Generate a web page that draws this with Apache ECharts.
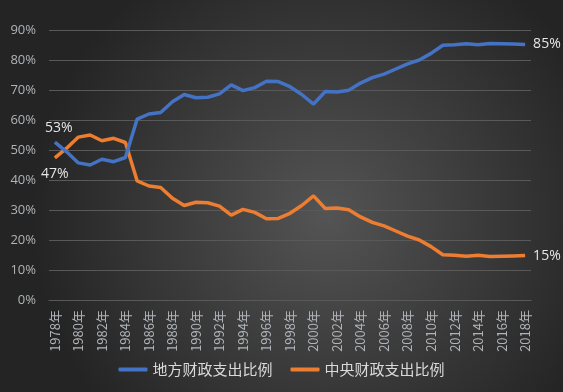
<!DOCTYPE html>
<html>
<head>
<meta charset="utf-8">
<script src="https://cdn.jsdelivr.net/npm/echarts@6/dist/echarts.min.js"></script>
<style>
html,body{margin:0;padding:0;background:#2b2b2b;}
#c{width:563px;height:392px;}
</style>
</head>
<body>
<div id="c"></div>
<script>
const years = ['1978年','1979年','1980年','1981年','1982年','1983年','1984年','1985年','1986年','1987年','1988年','1989年','1990年','1991年','1992年','1993年','1994年','1995年','1996年','1997年','1998年','1999年','2000年','2001年','2002年','2003年','2004年','2005年','2006年','2007年','2008年','2009年','2010年','2011年','2012年','2013年','2014年','2015年','2016年','2017年','2018年'];
const localShare = [52.6,49.4,45.7,45.0,46.9,46.1,47.5,60.3,62.0,62.5,66.1,68.5,67.4,67.6,68.7,71.7,69.8,70.8,72.9,72.8,71.1,68.5,65.3,69.5,69.3,69.9,72.3,74.1,75.3,77.0,78.7,80.0,82.2,84.9,85.1,85.4,85.1,85.5,85.4,85.3,85.2];
const centralShare = [47.4,50.6,54.3,55.0,53.1,53.9,52.5,39.7,38.0,37.5,33.9,31.5,32.6,32.4,31.3,28.3,30.2,29.2,27.1,27.2,28.9,31.5,34.7,30.5,30.7,30.1,27.7,25.9,24.7,23.0,21.3,20.0,17.8,15.1,14.9,14.6,14.9,14.5,14.6,14.7,14.8];
const seriesNames = ['地方财政支出比例','中央财政支出比例'];

const labelStyle = {color:'#e6e6e6', fontSize:14, fontFamily:'"Open Sans", "Noto Sans", sans-serif'};
function pctFmt(p){ return Math.round(p.value) + '%'; }
function withEndLabels(arr, firstPos, firstDist, firstOffset, lastPos){
  return arr.map(function(v,i){
    if(i===0) return {value:v, label:Object.assign({show:true, position:firstPos, distance:firstDist, offset:firstOffset, formatter:pctFmt}, labelStyle)};
    if(i===arr.length-1) return {value:v, label:Object.assign({show:true, position:lastPos, distance:8, formatter:pctFmt}, labelStyle)};
    return v;
  });
}

const chart = echarts.init(document.getElementById('c'), null, {renderer:'canvas'});
chart.setOption({
  backgroundColor: {
    type:'radial', x:0.58, y:0.55, r:0.75,
    colorStops:[{offset:0,color:'#545454'},{offset:1,color:'#242424'}]
  },
  animation:false,
  grid:{left:49, right:32, top:30, bottom:92, containLabel:false},
  legend:{
    data:seriesNames, bottom:10, left:'center',
    itemWidth:29, itemHeight:4, itemGap:18,
    icon:'roundRect',
    textStyle:{color:'#d9d9d9', fontSize:15, fontFamily:'"Noto Sans CJK SC", sans-serif'}
  },
  xAxis:{
    type:'category', data:years, boundaryGap:true,
    axisLine:{show:true, lineStyle:{color:'#595959'}},
    axisTick:{show:false},
    axisLabel:{rotate:90, interval:1, color:'#b0b4b8', fontSize:13, margin:10, fontFamily:'"Noto Sans CJK SC", sans-serif'}
  },
  yAxis:{
    type:'value', min:0, max:90, interval:10,
    axisLine:{show:false}, axisTick:{show:false},
    axisLabel:{formatter:'{value}%', color:'#b0b4b8', fontSize:13, margin:13, fontFamily:'"Open Sans", "Noto Sans", sans-serif'},
    splitLine:{lineStyle:{color:'#595959', width:1}}
  },
  series:[
    {name:seriesNames[0], type:'line', data:withEndLabels(localShare,'top',7,[4,0],'right'),
     symbol:'circle', symbolSize:0, showSymbol:true, showAllSymbol:true,
     lineStyle:{color:'#4472C4', width:3.5}, itemStyle:{color:'#4472C4'}, z:3},
    {name:seriesNames[1], type:'line', data:withEndLabels(centralShare,'bottom',9,[0,0],'right'),
     symbol:'circle', symbolSize:0, showSymbol:true, showAllSymbol:true,
     lineStyle:{color:'#ED7D31', width:3.5}, itemStyle:{color:'#ED7D31'}, z:2}
  ]
});
</script>
</body>
</html>
